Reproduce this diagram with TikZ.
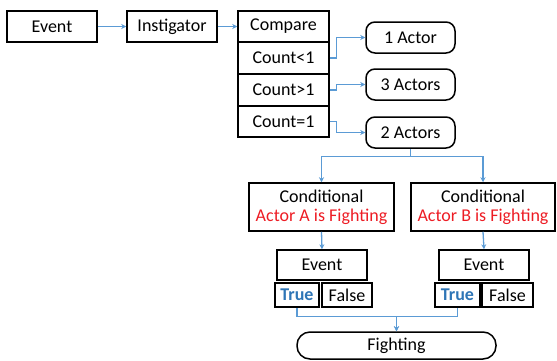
\documentclass[tikz,border=0pt]{standalone}
\usepackage{fontspec}
\setmainfont{Carlito}
\usetikzlibrary{arrows.meta}
\definecolor{lnblue}{RGB}{91,155,213}
\definecolor{tblue}{RGB}{46,117,182}
\definecolor{tred}{RGB}{237,28,36}
\begin{document}
\begin{tikzpicture}[x=1pt,y=-1pt,
  box/.style={draw=black, line width=1.5pt, inner sep=0pt, font=\fontsize{18}{21}\selectfont, align=center},
  rbox/.style={box, rounded corners=9pt},
  conn/.style={draw=lnblue, line width=1.3pt, -{Stealth[length=5pt,width=5pt]}},
  line/.style={draw=lnblue, line width=1.3pt}
]
\useasboundingbox (0,0) rectangle (557,360);
\node[box, minimum width=90pt, minimum height=31pt] (ev) at (52,26.5) {Event};
\node[box, minimum width=90pt, minimum height=31pt] (inst) at (172,26.5) {Instigator};
\node[box, minimum width=91pt, minimum height=31pt] (cmp) at (283.5,26.5) {Compare};
\node[box, minimum width=91pt, minimum height=32pt] (c1) at (283.5,58) {Count<1};
\node[box, minimum width=91pt, minimum height=32pt] (c2) at (283.5,90) {Count>1};
\node[box, minimum width=91pt, minimum height=31pt] (c3) at (283.5,121.5) {Count=1};
\node[rbox, minimum width=89pt, minimum height=31pt] (a1) at (410.5,37.5) {1 Actor};
\node[rbox, minimum width=89pt, minimum height=31pt] (a3) at (410.5,84.5) {3 Actors};
\node[rbox, minimum width=89pt, minimum height=31pt] (a2) at (410.5,132.5) {2 Actors};
\node[box, minimum width=145pt, minimum height=48pt] (ca) at (321.5,207) {Conditional\\[-2pt]\textcolor{tred}{Actor A is Fighting}};
\node[box, minimum width=144pt, minimum height=48pt] (cb) at (483,207) {Conditional\\[-2pt]\textcolor{tred}{Actor B is Fighting}};
\node[box, minimum width=90pt, minimum height=30pt] (ea) at (322,265) {Event};
\node[box, minimum width=90pt, minimum height=30pt] (eb) at (484,265) {Event};
\node[box, minimum width=44pt, minimum height=24pt] (ta) at (297,295) {\textbf{\textcolor{tblue}{True}}};
\node[box, minimum width=50pt, minimum height=24pt] (fa) at (347,295) {False};
\node[box, minimum width=45pt, minimum height=24pt] (tb) at (457.5,295) {\textbf{\textcolor{tblue}{True}}};
\node[box, minimum width=51pt, minimum height=24pt] (fb) at (507.5,295) {False};
\node[box, rounded corners=13pt, minimum width=199pt, minimum height=27pt] (fi) at (396.5,345.5) {Fighting};
\draw[conn] (ev.east) -- (inst.west);
\draw[conn] (inst.east) -- (cmp.west);
\draw[conn] (c1.east) -- ++(7,0) |- (a1.west);
\draw[conn] (c2.east) -- ++(7,0) |- (a3.west);
\draw[conn] (c3.east) -- ++(7,0) |- (a2.west);
\draw[conn] (a2.south) -- ++(0,8) -| (ca.north);
\draw[conn] (a2.south) -- ++(0,8) -| (cb.north);
\draw[conn] (ca.south) -- (ea.north);
\draw[conn] (cb.south) -- (eb.north);
\draw[conn] (ta.south) -- ++(0,9) -| (fi.north);
\draw[conn] (tb.south) -- ++(0,9) -| (fi.north);
\end{tikzpicture}
\end{document}
